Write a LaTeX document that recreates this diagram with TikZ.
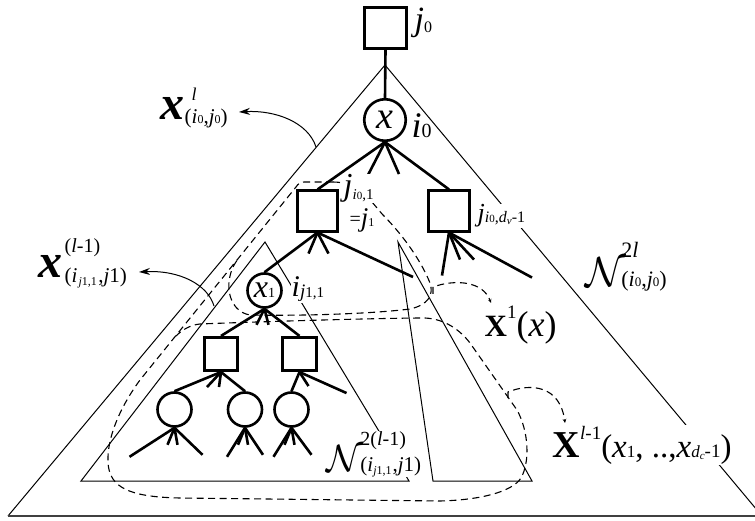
\documentclass[tikz,border=0pt]{standalone}
\usepackage{fontspec}
\setmainfont{Liberation Serif}
\usetikzlibrary{arrows.meta}
\newcommand{\fsz}[1]{\fontsize{#1}{#1}\selectfont}
\begin{document}
\begin{tikzpicture}[x=1pt,y=-1pt,
 thinl/.style={line width=1pt},
 basel/.style={line width=1.8pt, black!75},
 tree/.style={line width=2.6pt},
 dsh/.style={line width=1.1pt, dash pattern=on 7pt off 4.5pt},
 sq/.style={draw, line width=2.6pt, fill=white, inner sep=0pt, rectangle},
 cir/.style={draw, circle, line width=2.6pt, fill=white, inner sep=0pt},
 lab/.style={inner sep=0.5pt, anchor=base west},
 wlab/.style={lab, fill=white},
 arr/.style={line width=1pt, -{Stealth[length=11pt,width=7pt]}},
 darr/.style={dsh, -{Stealth[length=4pt,width=3.5pt]}}
]
\useasboundingbox (0,0) rectangle (755,521);

% triangles
\coordinate (A0) at (385,65);
\coordinate (B0L) at (8,516);
\coordinate (B0R) at (762,516);
\draw[thinl] (B0L) -- (A0) -- (B0R);
\draw[basel] (B0L) -- (B0R);
\coordinate (A1) at (265,242);
\coordinate (B1L) at (81,481);
\coordinate (B1R) at (409,481);
\draw[thinl] (B1L) -- (A1) -- (B1R) -- cycle;
\coordinate (A2) at (398,242);
\coordinate (B2L) at (433,481);
\coordinate (B2R) at (532,481);
\draw[thinl] (B2L) -- (A2) -- (B2R) -- cycle;

% dashed regions
\draw[dsh] (333,182) -- (304,182) .. controls (300,182) and (298,184) .. (296,187)
  -- (140,380) .. controls (118,410) and (107,440) .. (108,462)
  .. controls (109,488) and (130,497) .. (180,498) -- (440,501)
  .. controls (480,500) and (512,492) .. (521,478)
  .. controls (530,462) and (529,432) .. (517,410)
  -- (470,343) .. controls (460,330) and (445,319) .. (425,318)
  .. controls (380,318) and (250,322) .. (200,324)
  .. controls (190,325) and (182,330) .. (176,336);
\draw[dsh] (333,182) .. controls (360,182) and (372,203) .. (383,215)
  .. controls (400,232) and (420,258) .. (430,283)
  .. controls (434,295) and (428,305) .. (410,309)
  .. controls (370,314) and (300,316) .. (250,315)
  .. controls (232,312) and (226,292) .. (230,276)
  .. controls (232,268) and (234,264) .. (239,258);

% nodes
\node[sq, minimum size=41.5pt] (j0) at (385.5,28) {};
\node[cir, minimum size=41.5pt] (x) at (385,120) {\fsz{38}\textit{x}};
\node[sq, minimum size=40.5pt] (j1) at (317.5,211) {};
\node[sq, minimum size=40.5pt] (jd) at (449,211) {};
\node[cir, minimum size=34pt] (x1) at (264.5,290.5) {\fsz{32}\textit{x}\fsz{14}1};
\node[sq, minimum size=33.5pt] (L) at (221,354) {};
\node[sq, minimum size=33.5pt] (R) at (299.5,354) {};
\node[cir, minimum size=34pt] (c1) at (174.5,409.5) {};
\node[cir, minimum size=34pt] (c2) at (245,409.5) {};
\node[cir, minimum size=34pt] (c3) at (291.5,409.5) {};

% tree edges
\draw[tree] (j0.south) -- (x.north);
\draw[tree] (x.south) -- (j1.north);
\draw[tree] (x.south) -- ++(-17,33);
\draw[tree] (x.south) -- ++(14,32);
\draw[tree] (x.south) -- (jd.north);
\coordinate (j1e) at (413,277);
\draw[tree] (j1.south) -- (x1.north);
\draw[tree] (j1.south) -- ++(-9,21);
\draw[tree] (j1.south) -- ++(11,21);
\draw[tree] (j1.south) -- (j1e);
\draw[tree] (jd.south) -- ++(-7,43);
\draw[tree] (jd.south) -- ++(11,27);
\draw[tree] (jd.south) -- ++(25,27);
\draw[tree] (jd.south) -- ++(83,45);
\draw[tree] (x1.south) -- (L.north);
\draw[tree] (x1.south) -- (R.north);
\draw[tree] (x1.south) -- ++(-8,16);
\draw[tree] (x1.south) -- ++(4,16);
\draw[tree] (L.south) -- (c1.north);
\draw[tree] (L.south) -- (c2.north);
\draw[tree] (L.south) -- ++(-14,15);
\draw[tree] (L.south) -- ++(-2,15);
\draw[tree] (R.south) -- (c3.north);
\draw[tree] (R.south) -- ++(9,14);
\draw[tree] (R.south) -- ++(47,21);
\foreach \c/\a/\b in {c1/-45/28, c2/-18/18, c3/-18/20}{
  \draw[tree] (\c.south) -- ++(\a,29);
  \draw[tree] (\c.south) -- ++(\b,27);
  \draw[tree] (\c.south) -- ++(-7,17);
  \draw[tree] (\c.south) -- ++(3,17);
}

% labels
\node[lab] (lj0) at (414,31) {\fsz{34}\textit{j}\raisebox{-2pt}{\fsz{16}0}};
\node[lab] (li0) at (411,138) {\fsz{36}\textit{i}\fsz{20}0};
\node[wlab] (lji01) at (343,196) {\fsz{32}\textit{j}\raisebox{-4pt}{\fsz{15}\textit{i}\fsz{11}0\fsz{15},1}};
\node[wlab] (leqj1) at (349,227) {\raisebox{1.5pt}{\fsz{20}=}\fsz{27}\textit{j}\fsz{12}1};
\node[wlab] (ljd) at (477,222) {\fsz{26}\textit{j}\raisebox{-1pt}{\fsz{16}\textit{i}\fsz{11}0\fsz{16},\textit{d}\raisebox{-2pt}{\fsz{11}\textit{v}}\fsz{16}-1}};
\node[wlab] (lij11) at (291,297) {\fsz{30}\textit{i}\raisebox{-1pt}{\fsz{19}\textit{j}\fsz{15}1,1}};
\node[wlab] (lN2) at (326,471) {\scalebox{3.8}{$\mathcal{N}$}\kern-3pt\raisebox{26pt}{\rlap{\fsz{20}2(\textit{l}-1)}}\fsz{21}(\textit{i}\raisebox{-3pt}{\fsz{12}\textit{j}1,1}\kern1pt,\textit{j}1)};
\node[lab] (lN2l) at (585,287) {\scalebox{4.2}{$\mathcal{N}$}\kern-5pt\raisebox{29pt}{\rlap{\fsz{22}2\textit{l}}}\fsz{22}(\textit{i}\fsz{13}0\fsz{22},\textit{j}\fsz{13}0\fsz{22})};
\node[lab] (lxl) at (160,120) {\fsz{48}\textbf{\textit{x}}\raisebox{19pt}{\rlap{\kern7pt\fsz{18}\textit{l}}}\raisebox{-4pt}{\fsz{21}(\textit{i}\fsz{12}0\fsz{21},\textit{j}\fsz{12}0\fsz{21})}};
\node[lab] (lxl1) at (38,278) {\fsz{48}\textbf{\textit{x}}\kern2pt\raisebox{25pt}{\rlap{\fsz{20}(\textit{l}-1)}}\raisebox{-5pt}{\fsz{21}(\textit{i}\kern1pt\raisebox{-3pt}{\fsz{12}\textit{j}1,1}\kern1.5pt,\textit{j}1)}};
\node[lab] (lX1) at (484,337) {\fsz{31}\textbf{X}\raisebox{18pt}{\fsz{19}1}\fsz{36}(\textit{x})};
\node[wlab] (lXl1) at (552,457) {\fsz{38}\textbf{X}\raisebox{18pt}{\fsz{19}\textit{l}-1}\fsz{33}(\textit{x}\fsz{17}1\fsz{33}, ..,\textit{x}\fsz{17}\textit{d}\raisebox{-2pt}{\fsz{11}\textit{c}}\fsz{19}-1\fsz{33})};

% solid arrows to labels
\coordinate (a1s) at (316,147);
\coordinate (a1e) at (239,112);
\draw[arr] (a1s) .. controls (308,122) and (275,110) .. (a1e);
\coordinate (a2s) at (214,306);
\coordinate (a2e) at (139,272);
\draw[arr] (a2s) .. controls (208,285) and (180,270) .. (a2e);

% dashed connectors
\coordinate (cas) at (433,294);
\coordinate (cae) at (491,303);
\draw[darr] (cas) -- (433,287) .. controls (455,279) and (483,281) .. (cae);
\coordinate (cbs) at (508,398);
\coordinate (cbe) at (565,423);
\draw[darr] (cbs) -- (508,392) .. controls (530,383) and (560,385) .. (cbe);
\end{tikzpicture}
\end{document}
